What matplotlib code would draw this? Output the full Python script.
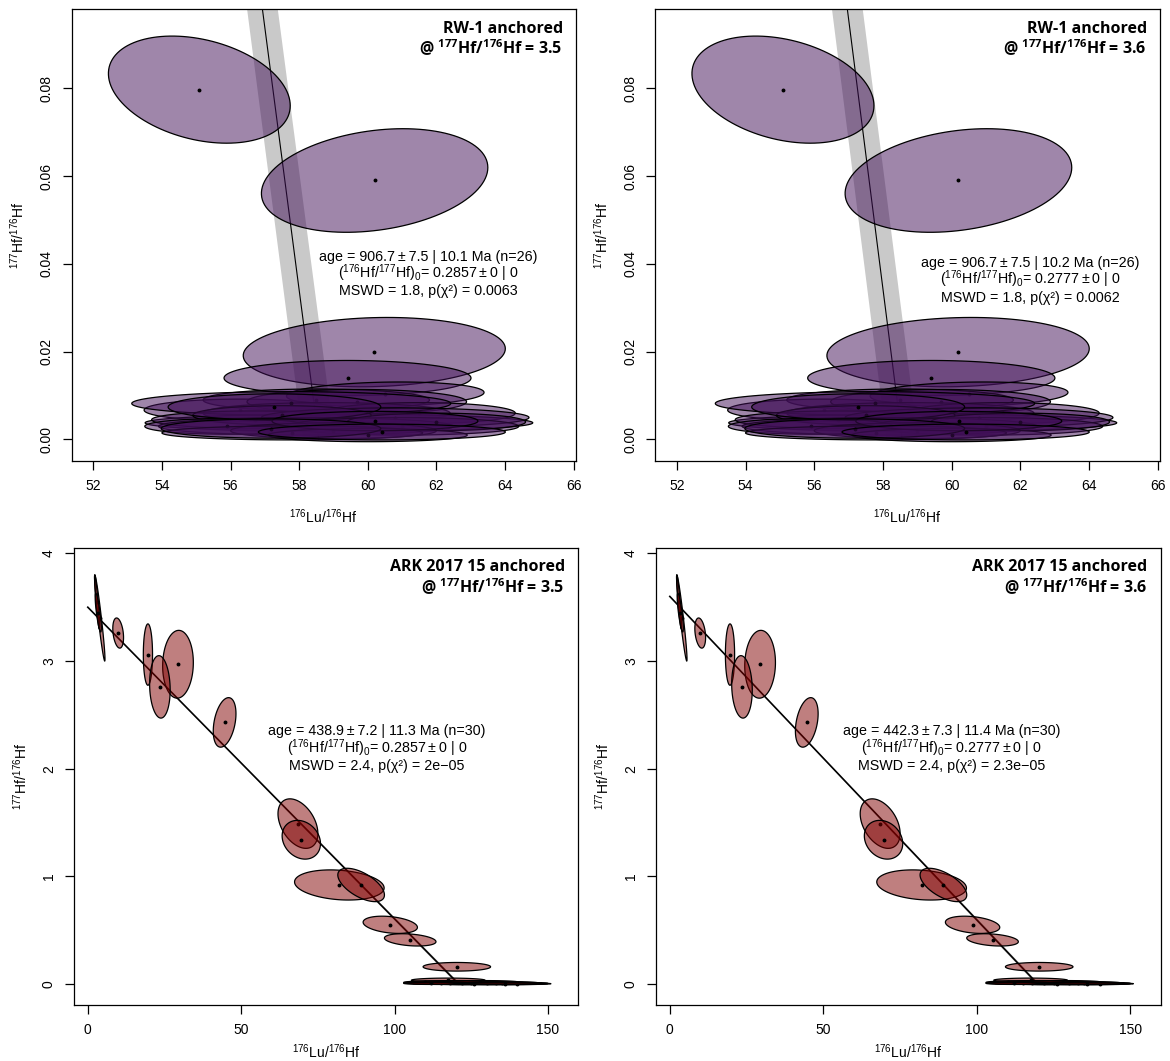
import numpy as np
import matplotlib
matplotlib.use("Agg")
from matplotlib import pyplot as plt
from matplotlib.patches import Polygon
from matplotlib.ticker import FormatStrFormatter

plt.rcParams["font.family"] = ["Liberation Sans", "DejaVu Sans"]
plt.rcParams["mathtext.fontset"] = "custom"
plt.rcParams["mathtext.rm"] = "Liberation Sans"
plt.rcParams["mathtext.it"] = "Liberation Sans:italic"
plt.rcParams["mathtext.bf"] = "Open Sans:bold"

# RW-1 measurements: 176Lu/176Hf, 177Hf/176Hf, ellipse half widths, error correlation
rw_x = [55.09, 60.20, 60.19, 59.41, 60.51, 58.50, 56.28, 59.68, 58.80, 61.50, 59.16,
        57.77, 56.70, 60.80, 57.50, 58.20, 61.00, 55.90, 62.00, 59.00, 57.80, 60.00,
        57.28, 60.21, 57.18, 60.41]
rw_sx = [2.65, 3.30, 3.82, 3.60, 2.88, 3.30, 2.80, 3.20, 3.60, 2.80, 5.65,
         4.65, 3.00, 3.90, 2.60, 4.30, 3.40, 2.40, 2.60, 3.00, 3.80, 2.90,
         3.10, 3.00, 3.20, 3.60]
rw_y = [0.0797, 0.0590, 0.0199, 0.0140, 0.0103, 0.0090, 0.0067, 0.0086, 0.0060, 0.0060, 0.0038,
        0.0082, 0.0045, 0.0050, 0.0055, 0.0030, 0.0030, 0.0030, 0.0040, 0.0020, 0.0015, 0.0010,
        0.0074, 0.0042, 0.0025, 0.0017]
rw_sy = [0.0122, 0.0118, 0.0079, 0.0040, 0.0028, 0.0025, 0.0025, 0.0028, 0.0024, 0.0024, 0.0020,
         0.0027, 0.0020, 0.0022, 0.0022, 0.0020, 0.0020, 0.0018, 0.0020, 0.0018, 0.0016, 0.0015,
         0.0030, 0.0022, 0.0022, 0.0018]
rw_rho = [-0.30, 0.25, 0.10, 0.0, 0.15, 0.0, 0.0, 0.0, 0.0, 0.0, 0.0,
          0.0, 0.0, 0.0, 0.0, 0.0, 0.0, 0.0, 0.0, 0.0, 0.0, 0.0,
          0.0, 0.0, 0.0, 0.0]

# ARK 2017 15 measurements
ark_x = [3.9, 3.0, 3.4, 9.9, 19.6, 29.4, 23.5, 44.6, 68.5, 69.6, 82.0, 89.1, 98.6, 105.1, 120.3,
         117.5, 125.0, 120.0, 130.0, 115.0, 135.0, 122.0, 140.0, 110.0, 128.0, 118.0, 133.0,
         126.0, 136.0, 112.0]
ark_sx = [1.7, 0.8, 1.0, 1.75, 1.5, 5.0, 3.35, 3.7, 6.5, 6.25, 14.6, 7.6, 8.85, 8.4, 11.0,
          12.0, 22.0, 15.0, 18.0, 10.0, 15.0, 8.0, 10.0, 7.0, 12.0, 6.0, 9.0,
          20.0, 15.0, 9.0]
ark_y = [3.40, 3.55, 3.45, 3.26, 3.06, 2.97, 2.76, 2.43, 1.49, 1.34, 0.92, 0.92, 0.55, 0.41, 0.16,
         0.035, 0.010, 0.020, 0.008, 0.012, 0.005, 0.005, 0.004, 0.015, 0.020, 0.008, 0.012,
         0.004, 0.003, 0.006]
ark_sy = [0.40, 0.25, 0.18, 0.14, 0.285, 0.315, 0.29, 0.23, 0.23, 0.18, 0.14, 0.155, 0.08, 0.057, 0.04,
          0.020, 0.015, 0.012, 0.012, 0.012, 0.010, 0.010, 0.010, 0.012, 0.012, 0.010, 0.010,
          0.010, 0.008, 0.010]
ark_rho = [-0.95, -0.9, -0.8, -0.3, 0.0, 0.05, -0.1, 0.35, -0.4, -0.2, -0.2, -0.6, -0.3, -0.3, 0.0,
           0.0, 0.0, 0.0, 0.0, 0.0, 0.0, 0.0, 0.0, 0.0, 0.0, 0.0, 0.0,
           0.0, 0.0, 0.0]

# anchored fits: y-intercept, x-intercept, band half width (x)
anchors = [3.5, 3.6]
rw_xint = [58.57, 58.56]
rw_band = 0.46
ark_xint = [120.9, 119.8]
ark_band = 0.6

rw_stats = [("906.7", "7.5", "10.1", "0.2857", "1.8", "0.0063"),
            ("906.7", "7.5", "10.2", "0.2777", "1.8", "0.0062")]
ark_stats = [("438.9", "7.2", "11.3", "0.2857", "2.4", "2e\u221205"),
             ("442.3", "7.3", "11.4", "0.2777", "2.4", "2.3e\u221205")]

W, H = 1170, 1061
fig = plt.figure(figsize=(W / 100, H / 100), dpi=100)
PM = "\u2009\u00b1\u2009"


def ellipse_pts(cx, a, cy, b, rho, n=120):
    t = np.linspace(0, 2 * np.pi, n)
    xs = cx + a * np.cos(t)
    ys = cy + b * (rho * np.cos(t) + np.sqrt(1 - rho ** 2) * np.sin(t))
    return np.column_stack([xs, ys])


def panel(rect, xs, sx, ys, sy, rho, colour, anchor, xint, band, lw_line,
          xlim, ylim, xticks, yticks, yfmt, title, stats, n, tx, xlab_y):
    ax = fig.add_axes(rect)
    # error band and isochron line
    ax.add_patch(Polygon([[0, anchor], [xint - band, 0], [xint + band, 0]],
                         closed=True, fc="#c9c9c9", ec="none", zorder=1))
    ax.plot([0, xint], [anchor, 0], color="black", lw=lw_line, zorder=2)
    for i in range(len(xs)):
        pts = ellipse_pts(xs[i], sx[i], ys[i], sy[i], rho[i])
        ax.add_patch(Polygon(pts, closed=True, fc=colour, ec="black", lw=0.9, zorder=3))
        ax.plot(xs[i], ys[i], "o", color="black", ms=1.8, zorder=3)
    ax.set_xlim(*xlim)
    ax.set_ylim(*ylim)
    ax.set_xticks(xticks)
    ax.set_yticks(yticks)
    ax.yaxis.set_major_formatter(FormatStrFormatter(yfmt))
    ax.tick_params(direction="out", length=6.5, width=0.9, labelsize=10, pad=6.5)
    for lab in ax.get_yticklabels():
        lab.set_rotation(90)
        lab.set_va("center")
    for s in ax.spines.values():
        s.set_linewidth(0.9)
    ax.set_xlabel(r"$^{176}$Lu/$^{176}$Hf", fontsize=10)
    ax.set_ylabel(r"$^{177}$Hf/$^{176}$Hf", fontsize=10)
    ax.xaxis.set_label_coords(0.5, xlab_y)
    ax.yaxis.set_label_coords(-0.088, 0.5)
    ax.text(0.974, 0.9486, title, transform=ax.transAxes, ha="right", va="baseline",
            fontsize=11.5, fontweight="bold", family="Open Sans")
    ax.text(0.974, 0.901, r"@ $^{\mathbf{177}}$Hf/$^{\mathbf{176}}$Hf = " + str(anchor),
            transform=ax.transAxes, ha="right", va="baseline",
            fontsize=11.5, fontweight="bold", family="Open Sans")
    age, e1, e2, r0, mswd, p = stats
    lines = ["age = " + age + PM + e1 + " | " + e2 + " Ma (n=" + str(n) + ")",
             r"($^{176}$Hf/$^{177}$Hf)$_0$= " + r0 + PM + "0 | 0",
             "MSWD = " + mswd + ", p(\u03c7\u00b2) = " + p]
    for k, s in enumerate(lines):
        ax.text(tx[0], tx[1] - k * 0.0385, s, transform=ax.transAxes, ha="center",
                va="baseline", fontsize=10.3)
    return ax


purple = (0.25, 0.06, 0.34, 0.5)
maroon = (0.5, 0.0, 0.0, 0.5)

top_rects = [[71.7 / W, 1 - 461 / H, 504.3 / W, 451.7 / H],
             [655.2 / W, 1 - 461 / H, 504.8 / W, 451.7 / H]]
bot_rects = [[74 / W, 1 - 1005 / H, 504 / W, 457 / H],
             [656 / W, 1 - 1005 / H, 504.5 / W, 457 / H]]
rw_tx = [(0.7065, 0.4434), (0.7425, 0.4295)]
ark_tx = [(0.6006, 0.5908), (0.5857, 0.5905)]

for j in range(2):
    panel(top_rects[j], rw_x, rw_sx, rw_y, rw_sy, rw_rho, purple, anchors[j], rw_xint[j],
          rw_band, 0.8, (51.37, 66.07), (-0.0049, 0.098), np.arange(52, 67, 2),
          [0, 0.02, 0.04, 0.06, 0.08], "%.2f", "RW-1 anchored", rw_stats[j], 26, rw_tx[j],
          -0.103)
    panel(bot_rects[j], ark_x, ark_sx, ark_y, ark_sy, ark_rho, maroon, anchors[j], ark_xint[j],
          ark_band, 1.2, (-4.5, 159.8), (-0.195, 4.05), [0, 50, 100, 150],
          [0, 1, 2, 3, 4], "%d", "ARK 2017 15 anchored", ark_stats[j], 30, ark_tx[j],
          -0.082)

fig.savefig("out.png", dpi=100)
